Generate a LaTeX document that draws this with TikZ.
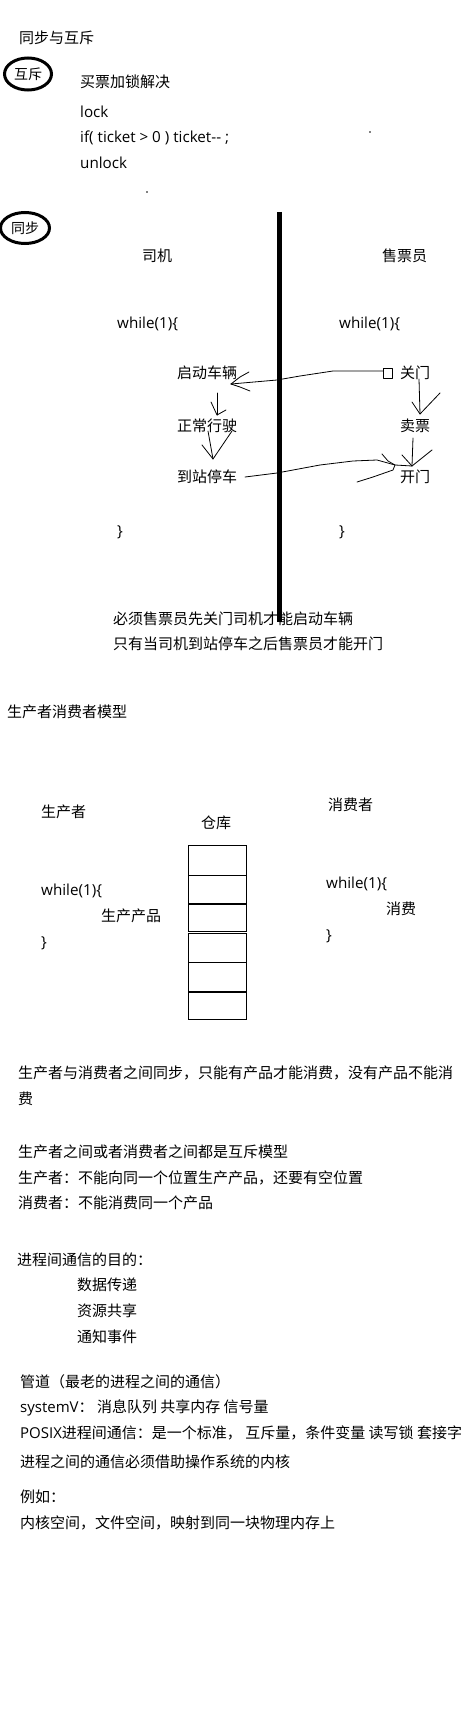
\documentclass[tikz,border=0pt]{standalone}
\usepackage{fontspec}
\setmainfont{Noto Sans CJK SC}
\newfontfamily\lat{Open Sans}
\usetikzlibrary{shapes.geometric}
\begin{document}
\begin{tikzpicture}[x=1pt,y=-1pt,
  t/.style={anchor=west,inner sep=0pt,font=\fontsize{15pt}{18pt}\selectfont,text height=13.2pt,text depth=1.8pt},
  l/.style={t,font=\fontsize{15.2pt}{18pt}\lat},
  oval/.style={draw,ellipse,line width=3pt,inner sep=0pt,font=\fontsize{14pt}{16pt}\selectfont},
  hand/.style={line width=0.8pt,line cap=round,line join=round},
  slot/.style={draw,line width=0.8pt},
  speck/.style={fill=black}
]
\useasboundingbox (0,0) rectangle (464,1720);

% ---- section 1
\node[t] (title) at (19,38) {同步与互斥};
\node[oval,minimum width=47pt,minimum height=32pt] (hc) at (28,74) {互斥};
\node[t] (buy) at (80,82) {买票加锁解决};
\node[l] (lock) at (80,112) {lock};
\node[l] (iftk) at (80,137) {if( ticket > 0 ) ticket-- ;};
\node[l] (unlock) at (80,163) {unlock};
\fill[speck] (370,132) circle (0.8);
\fill[speck] (147,192) circle (0.8);

% ---- sync
\node[oval,minimum width=49pt,minimum height=31pt] (tb) at (25,228) {同步};
\node[t] (driver) at (142,256) {司机};
\node[t] (seller) at (382,256) {售票员};
\coordinate (vtop) at (279,212);
\coordinate (vbot) at (279,622);
\draw[line width=5pt] (vtop) -- (vbot);

\node[l] (wl) at (117,323) {while(1)\{};
\node[l] (wr) at (339,323) {while(1)\{};
\node[t] (qd) at (177,373) {启动车辆};
\node[t] (zc) at (177,426) {正常行驶};
\node[t] (dz) at (177,477) {到站停车};
\node[t] (gm) at (400,373) {关门};
\node[t] (mp) at (400,426) {卖票};
\node[t] (km) at (400,477) {开门};
\node[l] (cl) at (117,531) {\}};
\node[l] (cr) at (339,531) {\}};

% hand drawn arrows
% close door -> start vehicle
\draw[hand] (383,368) rectangle (392,378);
\coordinate (tA) at (231,384);
\draw[hand] (383,371) -- (333,371) -- (300,376) -- (277,380) -- (tA);
\draw[hand] (tA) -- (240,377) -- (249,372);
\draw[hand] (tA) -- (240,387) -- (250,391);
% start -> normal driving
\coordinate (tB) at (217,415);
\draw[hand] (217,393) -- (tB);
\draw[hand] (211,402) -- (tB) -- (226,410);
% normal -> arrive
\coordinate (tC) at (213,459);
\draw[hand] (208,431) -- (tC);
\draw[hand] (202,445) -- (tC) -- (232,431);
% close door -> sell ticket
\coordinate (tD) at (420,414);
\draw[hand] (419,379) -- (tD);
\draw[hand] (412,402) -- (tD) -- (440,393);
% sell ticket -> open door
\coordinate (tE) at (412,466);
\draw[hand] (413,438) -- (tE);
\draw[hand] (402,455) -- (tE) -- (432,450);
% arrive -> open door
\coordinate (tF) at (395,465);
\draw[hand] (245,477) -- (277,473) -- (320,465) -- (353,461) -- (377,460) -- (tF) -- (412,466);
\draw[hand] (382,454) -- (388,461) -- (tF);
\draw[hand] (357,482) -- (373,477) -- (393,470) -- (tF);

\node[t] (must1) at (113,619) {必须售票员先关门司机才能启动车辆};
\node[t] (must2) at (113,644) {只有当司机到站停车之后售票员才能开门};

% ---- producer / consumer
\node[t] (pcm) at (7,712) {生产者消费者模型};
\node[t] (prod) at (41,812) {生产者};
\node[t] (cons) at (328,805) {消费者};
\node[t] (wh) at (201,823) {仓库};
\draw[slot] (188.5,845) rectangle (246.5,875);
\draw[slot] (188.5,875.5) rectangle (246.5,903);
\draw[slot] (188.5,904.5) rectangle (246.5,931.5);
\draw[slot] (188.5,933) rectangle (246.5,962);
\draw[slot] (188.5,962.5) rectangle (246.5,991);
\draw[slot] (188.5,992.5) rectangle (246.5,1019);

\node[l] (pw) at (41,890) {while(1)\{};
\node[t] (pp) at (101,916) {生产产品};
\node[l] (pc) at (41,942) {\}};
\node[l] (cw) at (326,883) {while(1)\{};
\node[t] (cx) at (386,909) {消费};
\node[l] (cc) at (326,935) {\}};

\node[t] (s1) at (18,1073) {生产者与消费者之间同步，只能有产品才能消费，没有产品不能消};
\node[t] (s1b) at (18,1099) {费};
\node[t] (s2) at (18,1152) {生产者之间或者消费者之间都是互斥模型};
\node[t] (s3) at (18,1178) {生产者：不能向同一个位置生产产品，还要有空位置};
\node[t] (s4) at (18,1203) {消费者：不能消费同一个产品};

\node[t] (ipc) at (17,1260) {进程间通信的目的：};
\node[t] (ipc1) at (77,1285) {数据传递};
\node[t] (ipc2) at (77,1311) {资源共享};
\node[t] (ipc3) at (77,1337) {通知事件};

\node[t] (pipe) at (20,1382) {管道（最老的进程之间的通信）};
\node[t] (sysv) at (20,1407) {{\lat systemV}：\ 消息队列 共享内存 信号量};
\node[t] (posix) at (20,1433) {{\lat POSIX}进程间通信：是一个标准， 互斥量，条件变量 读写锁 套接字};
\node[t] (kern) at (20,1462) {进程之间的通信必须借助操作系统的内核};
\node[t] (eg) at (20,1497) {例如：};
\node[t] (map) at (20,1523) {内核空间，文件空间，映射到同一块物理内存上};
\end{tikzpicture}
\end{document}
